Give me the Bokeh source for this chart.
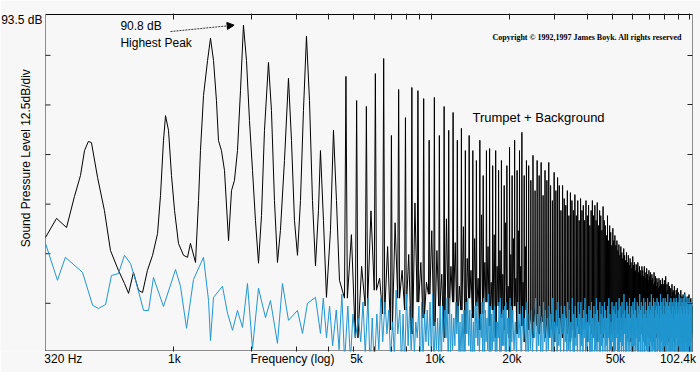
import numpy as np
from bokeh.plotting import figure
from bokeh.models import Range1d, LogAxis, LinearAxis, FixedTicker, Label, Arrow, NormalHead
from bokeh.embed import file_html
from bokeh.resources import INLINE

FONT = "Liberation Sans"
BG = "#f7f7f7"
BLUE = "#2196cf"
AXIS = "#222222"

# ---------------- data ----------------
# Trumpet + background, low band (individual analyzer points)
trumpet_low_hz = [320, 353, 386, 414, 437, 453, 469, 482, 509, 541, 571, 613, 647, 671, 701, 733, 760, 794,
                  831, 869, 892, 916, 933, 958, 984, 1011, 1047, 1095, 1135, 1165, 1219, 1252, 1274, 1309,
                  1357, 1393, 1431, 1469, 1496, 1536, 1578, 1636, 1680, 1725, 1772, 1820, 1869, 1920, 1972,
                  2026, 2080, 2137, 2195, 2254, 2336, 2399, 2464, 2531, 2599, 2694, 2792, 2868, 2945, 3025,
                  3107, 3191, 3278, 3367, 3458, 3552, 3648, 3713, 3814, 3917, 4060, 4170, 4283, 4399]
trumpet_low_db = [37.3, 42.1, 39.8, 47.6, 52.9, 59.2, 61.5, 61.2, 52.4, 44.1, 34.0, 29.0, 25.7, 23.2, 28.5, 24.0,
                  23.4, 29.0, 32.8, 38.3, 47.9, 61.7, 68.0, 64.3, 52.9, 44.1, 35.8, 32.8, 32.3, 35.8, 31.0, 46.6,
                  59.2, 73.1, 81.9, 87.5, 81.9, 71.8, 61.7, 59.2, 54.2, 36.5, 49.1, 51.7, 59.2, 74.3, 90.8, 81.9,
                  66.8, 54.2, 41.6, 30.8, 42.8, 64.3, 81.4, 69.3, 46.6, 31.0, 39.1, 56.7, 77.4, 61.7, 41.6, 32.8,
                  46.6, 69.3, 88.0, 71.8, 46.6, 30.2, 44.1, 59.2, 41.6, 22.2, 39.1, 64.3, 46.6, 26.5]

# Harmonic series of the trumpet note (fundamental ~466 Hz), harmonics 10..219
fundamental_hz = 466
first_harmonic = 10
trumpet_peak_db = [
    77.9, 71.8, 70.3, 78.6, 82.4, 63.0, 74.6, 67.5, 75.1, 74.3,
    72.3, 61.8, 72.6, 63.0, 70.3, 64.3, 68.8, 61.8, 64.8, 59.2,
    63.0, 59.2, 56.7, 61.8, 52.9, 59.2, 59.7, 55.4, 59.2, 54.2,
    56.7, 50.4, 55.4, 60.0, 52.9, 61.8, 54.2, 59.2, 63.8, 52.9,
    56.7, 55.4, 51.7, 58.0, 49.1, 56.7, 52.9, 56.2, 47.9, 54.2,
    51.7, 56.2, 50.4, 46.6, 53.7, 49.1, 52.4, 50.4, 44.1, 50.4,
    47.1, 45.4, 49.1, 42.8, 48.6, 46.6, 44.1, 48.1, 42.8, 46.6,
    41.6, 47.1, 44.1, 45.4, 41.6, 46.6, 42.8, 45.4, 40.3, 44.1,
    46.6, 42.8, 45.4, 41.6, 46.1, 40.3, 44.1, 42.8, 39.1, 45.1,
    41.6, 40.3, 37.8, 42.8, 36.5, 40.3, 38.6, 35.3, 39.6, 36.5,
    37.8, 35.3, 36.5, 34.0, 35.5, 32.8, 35.0, 33.5, 32.0, 34.5,
    32.8, 31.5, 33.5, 31.0, 32.8, 30.3, 32.0, 31.0, 29.5, 32.5,
    30.3, 31.0, 29.0, 30.5, 29.5, 31.0, 28.5, 30.0, 29.0, 27.7,
    30.0, 29.0, 27.5, 30.0, 28.5, 27.0, 29.5, 28.0, 26.5, 29.0,
    27.5, 28.5, 26.5, 28.0, 27.0, 25.5, 28.5, 26.0, 27.5, 25.0,
    27.0, 26.0, 24.5, 27.0, 25.0, 26.5, 23.4, 25.5, 27.0, 24.0,
    25.5, 26.5, 24.5, 27.5, 23.4, 25.5, 24.0, 26.0, 22.9, 25.0,
    23.4, 24.5, 22.4, 25.5, 23.4, 24.0, 21.9, 25.0, 22.9, 21.4,
    24.0, 22.4, 24.5, 20.9, 23.4, 21.9, 22.9, 20.4, 24.0, 21.4,
    22.4, 20.9, 22.9, 21.9, 19.9, 23.4, 21.4, 22.4, 20.4, 21.9,
    19.9, 22.4, 20.9, 22.9, 21.4, 19.4, 21.9, 20.4, 21.4, 19.9]
trumpet_floor_db = [
    22, 12, 20, 24, 18, 14, 22, 19, 13, 21,
    17, 23, 15, 20, 12, 18, 21, 16, 19, 13,
    22, 17, 20, 14, 18, 21, 15, 19, 12, 20,
    17, 14, 19, 12, 16, 20, 13, 18, 15, 11,
    19, 14, 17, 12, 20, 15, 13, 18, 16, 12,
    16, 12, 19, 14, 11, 17, 15, 13, 18, 12,
    15, 19, 13, 16, 11, 18, 14, 12, 17, 15,
    13, 18, 12, 16, 14, 19, 11, 15, 17, 13,
    16, 12, 18, 14, 11, 17, 15, 13, 19, 12,
    17, 14, 12, 18, 15, 11, 16, 13, 19, 14,
    12, 17, 15, 13, 18, 11, 16, 14, 12, 19,
    15, 13, 17, 12, 16, 19, 14, 11, 18, 15,
    13, 17, 12, 16, 14, 19, 11, 15, 18, 13,
    16, 12, 18, 14, 11, 17, 15, 13, 19, 12,
    17, 14, 12, 18, 15, 11, 16, 13, 19, 14,
    12, 17, 15, 13, 18, 11, 16, 14, 12, 19,
    15, 13, 17, 12, 16, 19, 14, 11, 18, 15,
    13, 17, 12, 16, 14, 19, 11, 15, 18, 13,
    16, 12, 18, 14, 11, 17, 15, 13, 19, 12,
    17, 14, 12, 18, 15, 11, 16, 13, 19, 14,
    12, 17, 15, 13, 18, 11, 16, 14, 12, 19]
# secondary bumps half-way between harmonics 10..49
trumpet_mid_db = [
    38, 30, 44, 27, 35, 41, 29, 33, 46, 31,
    26, 39, 34, 28, 42, 30, 36, 25, 40, 32,
    29, 37, 27, 43, 31, 35, 26, 38, 30, 34,
    28, 41, 25, 33, 37, 27, 39, 30, 26, 35]

# Background alone, low band
background_low_hz = [320, 356, 382, 445, 487, 513, 547, 576, 613, 647, 683, 720, 767, 802, 838, 916, 1020, 1066,
                     1125, 1197, 1309, 1369, 1393, 1431, 1550, 1621, 1695, 1772, 1853, 1937, 2026, 2137, 2275,
                     2378, 2531, 2646, 2792, 3025, 3164, 3306, 3552, 3713]
background_low_db = [35.8, 26.5, 32.3, 28.5, 20.2, 19.4, 20.4, 27.7, 28.2, 32.8, 30.7, 25.7, 18.9, 18.9, 27.2,
                     19.9, 29.2, 25.0, 14.4, 26.7, 32.3, 21.4, 11.3, 22.2, 25.0, 18.2, 13.9, 18.9, 14.6, 25.7,
                     9.3, 24.5, 17.1, 21.4, 10.6, 25.7, 16.4, 18.9, 13.1, 20.7, 22.2, 13.1]

# Background, high band: crest and dip per harmonic interval (intervals 8..219)
first_bg_interval = 8
background_top_db = [
    22, 19,
    20, 17, 22, 18, 21, 16, 19, 23, 17, 20,
    18, 21, 16, 20, 19, 22, 17, 20, 18, 21,
    19, 16, 21, 18, 22, 17, 20, 19, 16, 21,
    18, 20, 17, 22, 19, 16, 21, 18, 20, 17,
    21, 18, 19, 16, 22, 18, 20, 17, 21, 19,
    17, 20, 18, 22, 16, 19, 21, 17, 20, 18,
    20, 17, 21, 19, 16, 22, 18, 20, 17, 21,
    18, 21, 17, 19, 22, 18, 16, 20, 19, 21,
    17, 20, 18, 22, 19, 16, 21, 18, 20, 17,
    21, 19, 17, 20, 22, 18, 16, 21, 19, 20,
    18, 21, 17, 19, 22, 20, 17, 21, 18, 23,
    19, 17, 21, 20, 18, 22, 17, 20, 19, 21,
    18, 22, 19, 17, 21, 20, 18, 23, 19, 21,
    17, 20, 22, 18, 21, 19, 17, 22, 20, 18,
    21, 19, 23, 18, 20, 22, 17, 21, 19, 20,
    22, 18, 21, 20, 17, 23, 19, 21, 18, 22,
    20, 18, 22, 19, 21, 17, 23, 20, 18, 21,
    19, 22, 18, 21, 20, 17, 22, 19, 21, 18,
    22, 20, 18, 21, 19, 23, 18, 20, 22, 19,
    21, 18, 22, 20, 19, 23, 18, 21, 20, 22,
    19, 21, 18, 22, 20, 19, 21, 18, 22, 20]
background_dip_db = [
    12, 9,
    6, 11, 4, 9, 13, 7, 5, 10, 8, 3,
    11, 6, 9, 4, 12, 7, 10, 5, 8, 13,
    7, 4, 10, 12, 6, 9, 3, 11, 8, 5,
    10, 6, 13, 4, 9, 7, 12, 5, 11, 8,
    4, 9, 7, 12, 5, 10, 8, 3, 11, 6,
    9, 12, 5, 8, 11, 4, 10, 7, 13, 6,
    11, 5, 9, 7, 12, 4, 8, 10, 6, 13,
    7, 10, 4, 12, 6, 9, 11, 5, 8, 3,
    12, 6, 9, 4, 11, 8, 5, 10, 7, 13,
    5, 10, 8, 12, 4, 9, 6, 11, 7, 3,
    9, 12, 6, 8, 4, 11, 7, 10, 5, 13,
    8, 4, 11, 6, 10, 7, 12, 5, 9, 3,
    10, 6, 9, 12, 4, 8, 11, 5, 7, 13,
    6, 11, 7, 4, 10, 9, 5, 12, 8, 3,
    11, 7, 10, 5, 9, 12, 4, 8, 6, 13,
    4, 9, 12, 6, 8, 5, 11, 7, 10, 3,
    9, 5, 8, 11, 4, 10, 6, 12, 7, 13,
    7, 12, 4, 9, 6, 11, 8, 5, 10, 3,
    12, 6, 10, 4, 9, 7, 11, 5, 8, 13,
    5, 10, 7, 12, 4, 8, 11, 6, 9, 3,
    10, 4, 9, 6, 12, 7, 5, 11, 8, 13]
# second crest/dip inside intervals 8..43
background_top2_db = [20, 23, 18, 21, 17, 22, 19, 24, 18, 20, 16, 21, 19, 23, 17, 20, 22, 18,
                      21, 16, 19, 22, 18, 20, 17, 21, 19, 23, 18, 20, 16, 22, 19, 21, 17, 20]
background_dip2_db = [10, 6, 12, 8, 4, 11, 7, 13, 5, 9, 12, 6, 10, 4, 8, 11, 5, 9,
                      13, 7, 3, 10, 6, 12, 8, 4, 11, 7, 9, 5, 12, 6, 10, 8, 4, 11]

freq_start_hz = 320
freq_end_hz = 102400
freq_ticks_hz = [1000, 2000, 3000, 4000, 5000, 6000, 7000, 8000, 9000, 10000,
                 20000, 30000, 40000, 50000, 60000, 70000, 80000, 90000, 100000]
# label text and where each label is centred on the frequency axis
freq_labels = {375: "320 Hz", 1010: "1k", 2894: "Frequency (log)", 5119: "5k", 10305: "10k",
               20470: "20k", 51490: "50k", 89900: "102.4k"}
db_top = 93.5
db_bottom = 8.8
level_ticks_db = [20.7, 33.2, 45.7, 58.2, 70.7, 83.2]

# ---------------- build lines ----------------
tx = list(trumpet_low_hz)
ty = list(trumpet_low_db)
for i, (pk, fl) in enumerate(zip(trumpet_peak_db, trumpet_floor_db)):
    f = (first_harmonic + i) * fundamental_hz
    tx += [f - 60, f, f + 60]
    ty += [fl, pk, fl]
    if i < len(trumpet_mid_db):
        tx.append(f + 233)
        ty.append(trumpet_mid_db[i])

bx = list(background_low_hz)
by = list(background_low_db)
for i, (top, dip) in enumerate(zip(background_top_db, background_dip_db)):
    f = (first_bg_interval + i) * fundamental_hz
    if i < len(background_top2_db):
        bx += [f + 80, f + 190, f + 300, f + 410]
        by += [top, dip, background_top2_db[i], background_dip2_db[i]]
    else:
        bx += [f + 117, f + 350]
        by += [top, dip]

# ---------------- figure ----------------
# the frame reaches the left edge so that the left-hand texts can be drawn inside it
p = figure(width=700, height=372, x_axis_type="log", x_range=Range1d(214.2, freq_end_hz),
           y_range=Range1d(8.55, 93.75), x_axis_location=None, y_axis_location=None,
           toolbar_location=None, output_backend="svg",
           min_border_left=0, min_border_right=8, min_border_top=13, min_border_bottom=21,
           background_fill_color=BG, border_fill_color=BG, outline_line_color=None)
p.xgrid.visible = False
p.ygrid.visible = False

above = LogAxis(ticker=FixedTicker(ticks=[], minor_ticks=freq_ticks_hz))
above.axis_line_color = None
above.minor_tick_in = 6
above.minor_tick_out = 0
above.minor_tick_line_color = AXIS
above.major_tick_line_color = None

right = LinearAxis(ticker=FixedTicker(ticks=[], minor_ticks=level_ticks_db))
right.axis_line_color = AXIS
right.axis_line_dash = "1 1"
right.minor_tick_in = 5
right.minor_tick_out = 0
right.minor_tick_line_color = AXIS
right.major_tick_line_color = None

below = LogAxis(ticker=FixedTicker(ticks=list(freq_labels.keys()), minor_ticks=freq_ticks_hz),
                major_label_overrides=freq_labels)
below.axis_line_color = None
below.major_tick_line_color = None
below.major_tick_in = 0
below.major_tick_out = 0
below.minor_tick_in = 5
below.minor_tick_out = 0
below.minor_tick_line_color = AXIS
below.major_label_standoff = 0
below.major_label_text_font = FONT
below.major_label_text_font_size = "12px"
below.major_label_text_color = "black"

p.add_layout(above, "above")
p.add_layout(below, "below")
p.add_layout(right, "right")

# frame lines: solid top, dotted left and bottom, plus left-hand division ticks
p.segment(x0=[freq_start_hz], y0=[db_top], x1=[freq_end_hz], y1=[db_top], line_color="black", line_width=1)
p.segment(x0=[freq_start_hz], y0=[db_bottom], x1=[freq_end_hz], y1=[db_bottom],
          line_color=AXIS, line_width=1, line_dash="1 1")
p.segment(x0=[freq_start_hz], y0=[db_bottom], x1=[freq_start_hz], y1=[db_top],
          line_color=AXIS, line_width=1, line_dash="1 1")
p.segment(x0=[freq_start_hz] * len(level_ticks_db), y0=level_ticks_db,
          x1=[334.5] * len(level_ticks_db), y1=level_ticks_db, line_color=AXIS, line_width=1)

p.line(tx, ty, line_color="black", line_width=1)
p.line(bx, by, line_color=BLUE, line_width=1)

p.add_layout(Label(x=311.5, y=92.2, text="93.5 dB", text_align="right", text_baseline="middle",
                   text_font=FONT, text_font_size="12px", text_color="black"))
p.add_layout(Label(x=270, y=57.7, text="Sound Pressure Level  12.5dB/div", angle=np.pi / 2,
                   text_align="center", text_baseline="middle",
                   text_font=FONT, text_font_size="12px", text_color="black"))

p.add_layout(Label(x=624, y=90.7, text="90.8 dB", text_align="left", text_baseline="middle",
                   text_font=FONT, text_font_size="12px", text_color="black"))
p.add_layout(Label(x=624, y=86.2, text="Highest Peak", text_align="left", text_baseline="middle",
                   text_font=FONT, text_font_size="12px", text_color="black"))
p.add_layout(Arrow(end=NormalHead(size=7, fill_color="black", line_color="black"),
                   x_start=975, y_start=89.2, x_end=1720, y_end=90.8,
                   line_color="#333333", line_width=1, line_dash="2 1"))

p.add_layout(Label(x=14400, y=67.5, text="Trumpet + Background", text_align="left", text_baseline="middle",
                   text_font=FONT, text_font_size="13px", text_color="black"))
p.add_layout(Label(x=17200, y=87.8, text="Copyright \u00a9 1992,1997 James Boyk. All rights reserved",
                   text_align="left", text_baseline="middle", text_font="Liberation Serif",
                   text_font_size="8px", text_font_style="bold", text_color="black"))

open("out.html", "w").write(file_html(p, INLINE))
